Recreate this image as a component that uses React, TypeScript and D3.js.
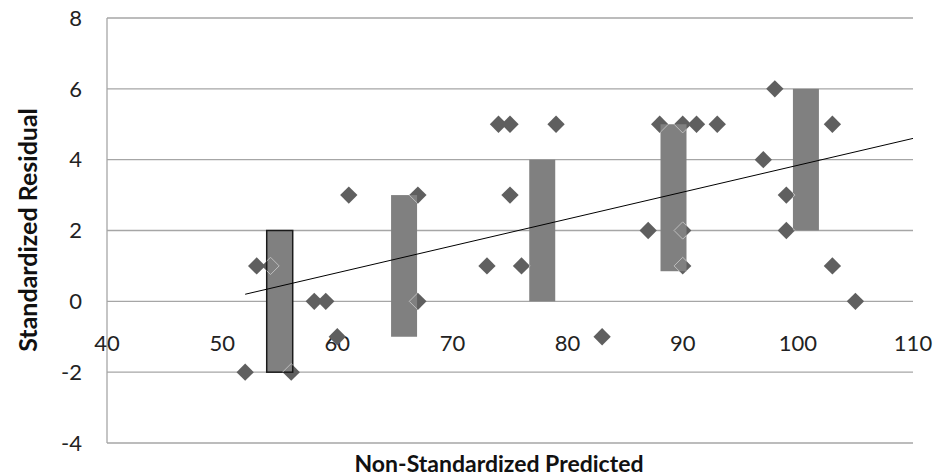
import React from "react"
import * as d3 from "d3"

// scatter points (predicted, residual)
const pointX = [52, 53, 54.2, 56, 58, 59, 60, 61, 67, 67, 73, 74, 75, 75, 76, 79, 83, 87, 88, 90, 90, 90, 91.2, 93, 97, 98, 99, 99, 103, 103, 105]
const pointY = [-2, 1, 1, -2, 0, 0, -1, 3, 3, 0, 1, 5, 5, 3, 1, 5, -1, 2, 5, 5, 2, 1, 5, 5, 4, 6, 3, 2, 5, 1, 0]

// floating bars
const barX = [55, 65.8, 77.8, 89.2, 100.7]
const barLow = [-2, -1, 0, 0.85, 2]
const barHigh = [2, 3, 4, 5, 6]

// linear trend line end points
const trendX = [52, 110]
const trendY = [0.2, 4.6]

const xTicks = [40, 50, 60, 70, 80, 90, 100, 110]
const yTicks = [-4, -2, 0, 2, 4, 6, 8]

const W = 939
const H = 476
const left = 107, right = 913, top = 18, bottom = 443
const font = "Lato, 'Open Sans', sans-serif"

export default function App() {
  const x = d3.scaleLinear().domain([40, 110]).range([left, right])
  const y = d3.scaleLinear().domain([-4, 8]).range([bottom, top])

  const diamond = d3.symbol().type(d3.symbolSquare).size(150)()
  const line = d3.line<number>()
    .x((_, i) => x(trendX[i]))
    .y(d => y(d))
  const barW = 26

  const bars = barX.map((bx, i) => ({
    x: x(bx) - barW / 2,
    y: y(barHigh[i]),
    h: y(barLow[i]) - y(barHigh[i]),
  }))

  return (
    <svg width={W} height={H} style={{ position: "absolute", left: 0, top: 0, background: "#fff" }}>
      <defs>
        <clipPath id="barClip">
          {bars.map((b, i) => <rect key={i} x={b.x} y={b.y} width={barW} height={b.h} />)}
        </clipPath>
      </defs>

      {/* grid */}
      {yTicks.map(t => (
        <line key={t} x1={left} x2={right} y1={y(t)} y2={y(t)} stroke="#a6a6a6" strokeWidth={1.3} />
      ))}
      <line x1={left} x2={left} y1={top} y2={bottom} stroke="#a6a6a6" strokeWidth={1.3} />

      {/* y labels */}
      {yTicks.map(t => (
        <text key={t} x={82} y={y(t)} dy="0.35em" textAnchor="end" fontFamily={font} fontSize={22} fill="#222">
          {t}
        </text>
      ))}
      {/* x labels */}
      {xTicks.map(t => (
        <text key={t} x={x(t)} y={343} dy="0.35em" textAnchor="middle" fontFamily={font} fontSize={22} fill="#222">
          {t}
        </text>
      ))}

      {/* diamonds */}
      {pointX.map((px, i) => (
        <path key={i} d={diamond!} transform={`translate(${x(px)},${y(pointY[i])}) rotate(45)`} fill="#5f5f5f" />
      ))}

      {/* floating bars */}
      {bars.map((b, i) => (
        <rect
          key={i}
          x={b.x}
          y={b.y}
          width={barW}
          height={b.h}
          fill="#808080"
          stroke={i === 0 ? "#1a1a1a" : "none"}
          strokeWidth={1.5}
        />
      ))}

      {/* faint outlines of diamonds hidden behind bars */}
      <g clipPath="url(#barClip)">
        {pointX.map((px, i) => (
          <path key={i} d={diamond!} transform={`translate(${x(px)},${y(pointY[i])}) rotate(45)`} fill="none" stroke="#c8c8c8" strokeWidth={0.8} />
        ))}
      </g>

      {/* trend line */}
      <path d={line(trendY)!} fill="none" stroke="#000" strokeWidth={1} />

      {/* axis titles */}
      <text x={499} y={464} dy="0.35em" textAnchor="middle" fontFamily={font} fontWeight="bold" fontSize={23} fill="#111">
        Non-Standardized Predicted
      </text>
      <text transform="translate(28,230) rotate(-90)" dy="0.35em" textAnchor="middle" fontFamily={font} fontWeight="bold" fontSize={25} fill="#111">
        Standardized Residual
      </text>
    </svg>
  )
}
